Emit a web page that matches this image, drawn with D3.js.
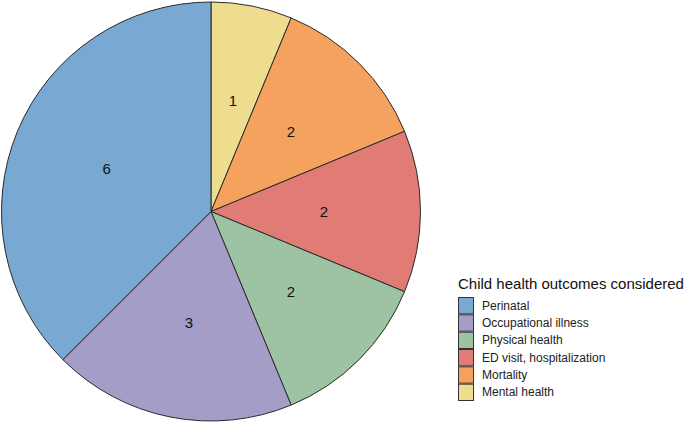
<!DOCTYPE html>
<html><head><meta charset="utf-8">
<script src="https://cdn.jsdelivr.net/npm/d3@7"></script>
<style>body{margin:0;background:#fff}svg{display:block}</style>
</head><body>
<svg id="c" width="685" height="424"></svg>
<script>
const categories = ["Mental health","Mortality","ED visit, hospitalization","Physical health","Occupational illness","Perinatal"];
const values = [1,2,2,2,3,6];
const colors = ["#EEDD8E","#F4A25E","#E17B76","#9DC3A2","#A49DC8","#79A8D2"];
const legendOrder = ["Perinatal","Occupational illness","Physical health","ED visit, hospitalization","Mortality","Mental health"];
const legendTitle = "Child health outcomes considered";

const svg = d3.select("#c");
const cx = 211, cy = 211.5, R = 209.5;
const color = d3.scaleOrdinal().domain(categories).range(colors);
const data = categories.map((c,i)=>({cat:c, v:values[i]}));
const pie = d3.pie().value(d=>d.v).sort(null);
const arc = d3.arc().innerRadius(0).outerRadius(R);
const labelArc = d3.arc().innerRadius(113).outerRadius(113);
const g = svg.append("g").attr("transform",`translate(${cx},${cy})`);
const arcs = pie(data);
g.selectAll("path").data(arcs).join("path")
  .attr("d",arc).attr("fill",d=>color(d.data.cat))
  .attr("stroke","#2b2b2b").attr("stroke-width",1);
g.selectAll("text").data(arcs).join("text")
  .attr("transform",d=>`translate(${labelArc.centroid(d)})`)
  .attr("text-anchor","middle").attr("dominant-baseline","central")
  .attr("font-family","Liberation Sans, Arial, sans-serif").attr("font-size",15)
  .attr("fill","#111").text(d=>d.data.v);

const lg = svg.append("g");
lg.append("text").attr("x",458).attr("y",289).attr("font-family","Liberation Sans, Arial, sans-serif")
  .attr("font-size",15).attr("fill","#111").text(legendTitle);
const y = d3.scaleBand().domain(legendOrder).range([297,401]).padding(0);
legendOrder.forEach(c=>{
  lg.append("rect").attr("x",458.5).attr("y",y(c)+0.5).attr("width",15).attr("height",y.bandwidth()-1)
    .attr("fill",color(c)).attr("stroke","#333").attr("stroke-width",1);
  lg.append("text").attr("x",482).attr("y",y(c)+y.bandwidth()/2).attr("dominant-baseline","central")
    .attr("font-family","Liberation Sans, Arial, sans-serif").attr("font-size",12).attr("fill","#222").text(c);
});
</script>
</body></html>
